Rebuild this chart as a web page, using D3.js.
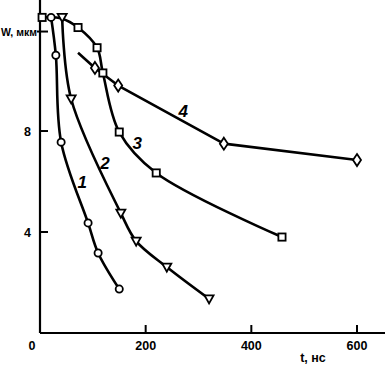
<!DOCTYPE html>
<html><head><meta charset="utf-8">
<script src="https://cdn.jsdelivr.net/npm/d3@7"></script>
<style>body{margin:0;background:#fff}svg{display:block}text{font-family:"Liberation Sans",Arial,sans-serif}</style>
</head><body><svg id="c" width="385" height="374"></svg>
<script>
// data (t in ns, W in µm)
const xTicks = [0, 200, 400, 600];
const yTicks = [4, 8, 12];
const yTickLabels = ["4", "8", "W, мкм"];
const s1t = [21, 30, 40, 91, 110, 150];
const s1w = [12.5, 11.0, 7.56, 4.36, 3.17, 1.74];
const s2t = [42, 59, 153, 182, 240, 320];
const s2w = [12.5, 9.27, 4.75, 3.64, 2.61, 1.35];
const s3t = [4, 42, 72, 108, 119, 150, 220, 458];
const s3w = [12.5, 12.45, 12.1, 11.3, 10.3, 7.96, 6.34, 3.8];
const s3marked = [1, 0, 1, 1, 1, 1, 1, 1];
const s4t = [72, 104, 148, 348, 600];
const s4w = [11.1, 10.5, 9.8, 7.5, 6.85];
const s4marked = [0, 1, 1, 1, 1];
const seriesNames = ["1", "2", "3", "4"];
const labelPos = [[80, 5.74], [123, 6.5], [184, 7.3], [271, 8.55]];

const svg = d3.select("#c");
const x = d3.scaleLinear().domain([0, 600]).range([40, 357]);
const y = d3.scaleLinear().domain([0, 13.19]).range([333, 0]);

const series = [
  {t: s1t, w: s1w, m: s1t.map(() => 1), shape: "circle", curve: d3.curveCatmullRom.alpha(0.5)},
  {t: s2t, w: s2w, m: s2t.map(() => 1), shape: "tri", curve: d3.curveCatmullRom.alpha(0.5)},
  {t: s3t, w: s3w, m: s3marked, shape: "square", curve: d3.curveCatmullRom.alpha(0.5)},
  {t: s4t, w: s4w, m: s4marked, shape: "diamond", curve: d3.curveLinear}
];

// axes
svg.append("line").attr("x1", x(0)).attr("x2", 385).attr("y1", y(0)).attr("y2", y(0))
  .attr("stroke", "#000").attr("stroke-width", 2.2);
svg.append("line").attr("x1", x(0)).attr("x2", x(0)).attr("y1", 0).attr("y2", y(0))
  .attr("stroke", "#000").attr("stroke-width", 2.2);

const gx = svg.append("g");
xTicks.forEach(v => {
  if (v > 0) gx.append("line").attr("x1", x(v)).attr("x2", x(v)).attr("y1", y(0)).attr("y2", y(0) - 8)
    .attr("stroke", "#000").attr("stroke-width", 2);
  gx.append("text").attr("x", v === 0 ? x(v) - 8 : x(v)).attr("y", 350)
    .attr("text-anchor", "middle").attr("font-size", 12.5).attr("font-weight", "bold").text(v);
});
svg.append("text").attr("x", 313).attr("y", 362).attr("text-anchor", "middle")
  .attr("font-size", 12.5).attr("font-weight", "bold").text("t, нс");

yTicks.forEach((v, i) => {
  svg.append("line").attr("x1", x(0) - (i === 2 ? 3 : 0)).attr("x2", x(0) + 8).attr("y1", y(v) + (i === 2 ? 1.5 : 0)).attr("y2", y(v) + (i === 2 ? 1.5 : 0))
    .attr("stroke", "#000").attr("stroke-width", 2);
  svg.append("text").attr("x", i === 2 ? 37 : 31).attr("y", y(v) + (i === 2 ? 6 : 4.5)).attr("text-anchor", "end")
    .attr("font-size", i === 2 ? 10.5 : 12.5).attr("font-weight", "bold").text(yTickLabels[i]);
});

series.forEach((s, k) => {
  const pts = s.t.map((t, i) => [t, s.w[i], s.m[i]]);
  const line = d3.line().x(d => x(d[0])).y(d => y(d[1])).curve(s.curve);
  svg.append("path").attr("d", line(pts)).attr("fill", "none").attr("stroke", "#000")
    .attr("stroke-width", 2.6).attr("stroke-linejoin", "round");
});

series.forEach((s, k) => {
  const pts = s.t.map((t, i) => [t, s.w[i], s.m[i]]).filter(p => p[2]);
  const g = svg.append("g");
  pts.forEach(p => {
    const cx = x(p[0]), cy = y(p[1]);
    let el;
    if (s.shape === "circle") el = g.append("circle").attr("cx", cx).attr("cy", cy).attr("r", 3.6);
    else if (s.shape === "square") el = g.append("rect").attr("x", cx - 3.6).attr("y", cy - 3.6).attr("width", 7.2).attr("height", 7.2);
    else if (s.shape === "tri") el = g.append("path").attr("d", `M${cx-4.5},${cy-3.5}L${cx+4.5},${cy-3.5}L${cx},${cy+4.5}Z`);
    else el = g.append("path").attr("d", `M${cx},${cy-6}L${cx+4},${cy}L${cx},${cy+6}L${cx-4},${cy}Z`);
    el.attr("fill", "#fff").attr("stroke", "#000").attr("stroke-width", 1.8);
  });
});

seriesNames.forEach((n, i) => {
  svg.append("text").attr("x", x(labelPos[i][0])).attr("y", y(labelPos[i][1])).attr("text-anchor", "middle")
    .attr("font-size", 17).attr("font-weight", "bold").attr("font-style", "italic").text(n);
});
</script></body></html>
